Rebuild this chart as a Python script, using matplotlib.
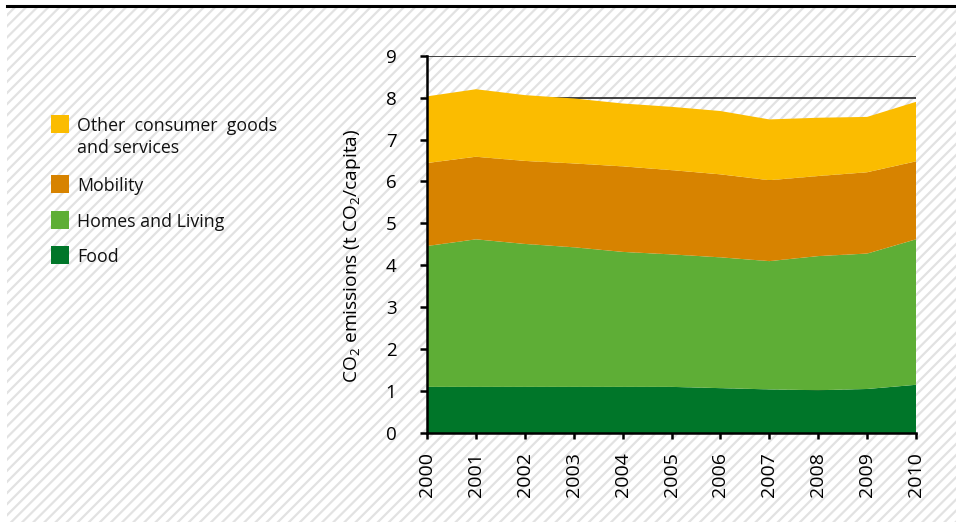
import matplotlib
matplotlib.use("Agg")
import matplotlib.pyplot as plt
from matplotlib.patches import Rectangle
from matplotlib.lines import Line2D

plt.rcParams['font.family'] = ['Open Sans', 'DejaVu Sans']
plt.rcParams['mathtext.fontset'] = 'custom'
plt.rcParams['mathtext.rm'] = 'Open Sans'
plt.rcParams['hatch.linewidth'] = 1.6

years = [2000, 2001, 2002, 2003, 2004, 2005, 2006, 2007, 2008, 2009, 2010]
food = [1.10, 1.10, 1.10, 1.10, 1.10, 1.10, 1.07, 1.04, 1.02, 1.05, 1.15]
homes = [3.36, 3.52, 3.41, 3.33, 3.22, 3.16, 3.12, 3.06, 3.20, 3.23, 3.47]
mobility = [1.98, 1.97, 1.98, 2.00, 2.04, 2.01, 1.98, 1.93, 1.91, 1.94, 1.86]
other = [1.59, 1.61, 1.57, 1.55, 1.50, 1.51, 1.51, 1.45, 1.39, 1.32, 1.42]

labels = ["Food", "Homes and Living", "Mobility", "Other  consumer  goods\nand services"]
colors = ["#007629", "#5EAE36", "#D78300", "#FBBC00"]

fig = plt.figure(figsize=(9.56, 5.22), dpi=100)
fig.patch.set_facecolor("white")

# striped background + top rule
bg = Rectangle((7 / 956, 0), 1, 1 - 8 / 522, transform=fig.transFigure,
               facecolor="white", edgecolor="#e2e2e2", hatch="///", lw=0, zorder=-10)
fig.add_artist(bg)
fig.add_artist(Line2D([7 / 956, 1], [1 - 6 / 522] * 2, color="black", lw=2.2))

ax = fig.add_axes([0.4467, 0.1705, 0.5115, 0.7228])
ax.set_facecolor("none")
ax.stackplot(years, food, homes, mobility, other, colors=colors, lw=0)

ax.set_xlim(2000, 2010)
ax.set_ylim(0, 9)
ax.set_xticks(years)
ax.set_yticks(range(0, 10))
ax.set_axisbelow(True)
ax.grid(axis="y", color="#222222", lw=1.2)
ax.grid(axis="x", visible=False)

for s in ["top", "right"]:
    ax.spines[s].set_visible(False)
for s in ["left", "bottom"]:
    ax.spines[s].set_linewidth(1.8)

ax.tick_params(axis="y", length=5, width=1.8, pad=17, labelsize=13.5)
ax.tick_params(axis="x", length=4.5, width=1.8, pad=9, labelsize=14, labelrotation=90)

ax.set_ylabel(r"CO$_2$ emissions (t CO$_2$/capita)", fontsize=13.8)
ax.yaxis.set_label_coords(-0.131, 0.469)

# legend, top entry first
rows = [(3, 115), (2, 175), (1, 211), (0, 246)]
for i, ytop in rows:
    fig.add_artist(Rectangle((51 / 956, 1 - (ytop + 18) / 522), 18 / 956, 18 / 522,
                             transform=fig.transFigure, facecolor=colors[i], lw=0))
    fig.text(77 / 956, 1 - (ytop + 2) / 522, labels[i], fontsize=12.8, va="top", ha="left",
             linespacing=1.3, color="#111111")

fig.savefig("out.png", dpi=100)
